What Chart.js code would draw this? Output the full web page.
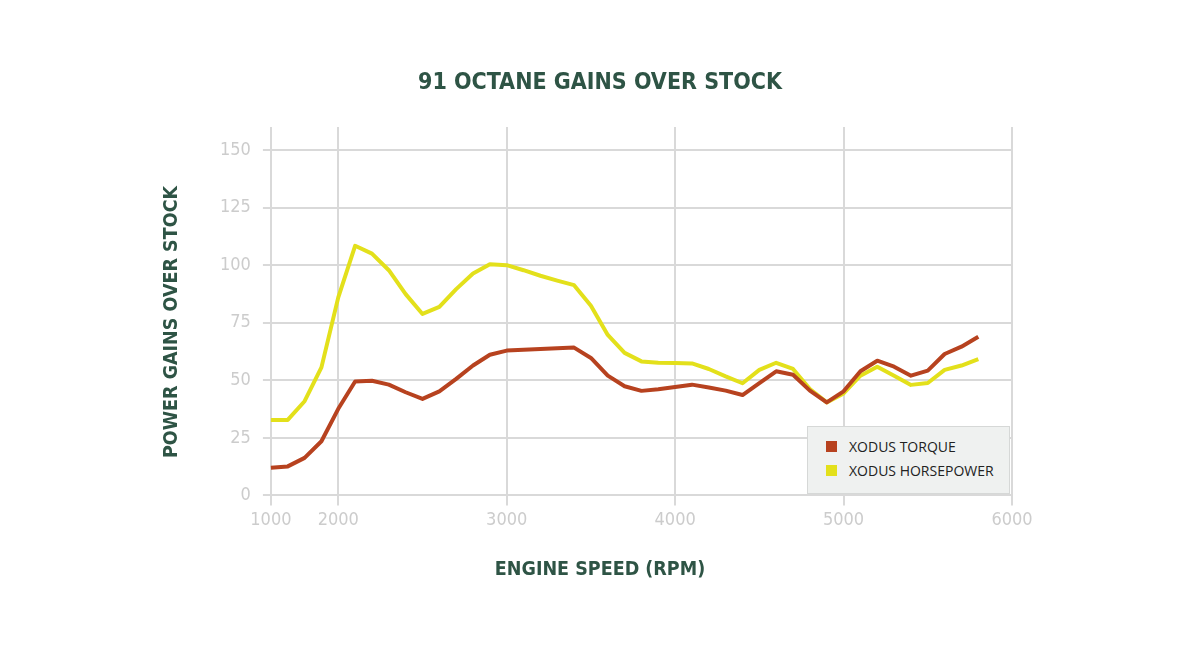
<!DOCTYPE html>
<html>
<head>
<meta charset="utf-8">
<script src="https://cdn.jsdelivr.net/npm/chart.js@4/dist/chart.umd.min.js"></script>
<style>
  html, body { margin: 0; padding: 0; background: #fff; }
  #wrap { position: relative; width: 1200px; height: 645px; }
  #legend {
    position: absolute; left: 807px; top: 426px; width: 201px; height: 66px;
    background: #eff1f0; border: 1px solid #d6d8d7;
    font-family: "Open Sans", sans-serif; font-size: 14px; color: #222;
  }
  #legend .item { position: absolute; left: 18px; display: flex; align-items: center; }
  #legend .sw { width: 11px; height: 11px; margin-right: 12px; }
</style>
</head>
<body>
<div id="wrap">
  <canvas id="chart" width="1200" height="645"></canvas>
  <div id="legend"></div>
</div>
<script>
// --- Data ---
const rpmLabels = ['1000', '1700', '1800', '1900', '2000', '2100', '2200', '2300', '2400', '2500',
    '2600', '2700', '2800', '2900', '3000', '3100', '3200', '3300', '3400', '3500',
    '3600', '3700', '3800', '3900', '4000', '4100', '4200', '4300', '4400', '4500',
    '4600', '4700', '4800', '4900', '5000', '5100', '5200', '5300', '5400', '5500',
    '5600', '5700', '5800', '5900', '6000'];
const torqueGains = [12, 12.6, 16.3, 23.5, 37.6, 49.5, 49.8, 48.1, 44.8, 41.9,
    45.2, 50.6, 56.4, 61.1, 62.9, 63.3, 63.6, 63.9, 64.2, 59.7,
    52, 47.4, 45.4, 46.1, 47.1, 48.1, 46.9, 45.5, 43.6, 48.8,
    53.9, 52.4, 45.5, 40.4, 45.2, 53.9, 58.5, 55.9, 52, 54.2,
    61.4, 64.6, 68.9];
const hpGains = [32.8, 32.8, 40.9, 55.6, 86, 108.4, 105, 97.8, 87.4, 78.8,
    81.9, 89.6, 96.4, 100.4, 100, 97.8, 95.4, 93.3, 91.3, 82.4,
    69.7, 61.9, 58.2, 57.6, 57.5, 57.3, 54.9, 51.7, 48.7, 54.5,
    57.6, 54.9, 46.2, 40.4, 44.3, 52, 55.9, 52, 48, 48.8,
    54.5, 56.4, 59.2];
const seriesNames = ['XODUS TORQUE', 'XODUS HORSEPOWER'];
const seriesColors = ['#b7421f', '#e3e01b'];
const chartTitle = '91 OCTANE GAINS OVER STOCK';
const xTitle = 'ENGINE SPEED (RPM)';
const yTitle = 'POWER GAINS OVER STOCK';
const yTickStep = 25;

// --- Styles ---
const gridGray = '#d9d9d9';
const tickGray = '#cccccc';
const titleGreen = '#2e5445';
const narrow = '"DejaVu Sans Condensed", "Liberation Sans Narrow", sans-serif';

const isMajor = i => Number(rpmLabels[i]) % 1000 === 0;

// Titles are centred on the page, not on the plot, so draw them here
const pageTitles = {
    id: 'pageTitles',
    afterDraw(chart) {
        const c = chart.ctx;
        c.save();
        c.fillStyle = titleGreen;
        c.textAlign = 'center';
        c.textBaseline = 'middle';
        c.font = `bold 23px ${narrow}`;
        c.fillText(chartTitle, 600, 83);
        c.font = `bold 19.5px ${narrow}`;
        c.fillText(xTitle, 600, 570);
        c.translate(172, 322);
        c.rotate(-Math.PI / 2);
        c.fillText(yTitle, 0, 0);
        c.restore();
    }
};

const ctx = document.getElementById('chart').getContext('2d');
const chart = new Chart(ctx, {
    type: 'line',
    data: {
        labels: rpmLabels,
        datasets: [
            { label: seriesNames[0], data: torqueGains, borderColor: seriesColors[0], backgroundColor: seriesColors[0] },
            { label: seriesNames[1], data: hpGains, borderColor: seriesColors[1], backgroundColor: seriesColors[1] }
        ].map(d => Object.assign(d, {
            borderWidth: 4, pointRadius: 0, tension: 0, fill: false,
            borderJoinStyle: 'round', borderCapStyle: 'butt'
        }))
    },
    plugins: [pageTitles],
    options: {
        responsive: false,
        animation: false,
        layout: { padding: { left: 208, right: 188, top: 127, bottom: 110 } },
        plugins: {
            legend: { display: false },
            tooltip: { enabled: false },
            title: { display: false }
        },
        scales: {
            x: {
                type: 'category',
                offset: false,
                border: { display: false },
                grid: {
                    color: c => isMajor(c.index) ? gridGray : 'rgba(0,0,0,0)',
                    tickColor: c => isMajor(c.index) ? gridGray : 'rgba(0,0,0,0)',
                    lineWidth: 2,
                    tickLength: 10
                },
                ticks: {
                    autoSkip: false,
                    maxRotation: 0,
                    color: tickGray,
                    font: { family: narrow, size: 18 },
                    padding: 4,
                    callback: (v, i) => isMajor(i) ? rpmLabels[i] : ''
                }
            },
            y: {
                min: 0,
                max: 160,
                border: { display: false },
                afterBuildTicks: s => { s.ticks = s.ticks.filter(t => t.value % yTickStep === 0); },
                grid: { color: gridGray, lineWidth: 2, tickLength: 8 },
                ticks: {
                    stepSize: yTickStep,
                    color: tickGray,
                    font: { family: narrow, size: 18 },
                    padding: 12
                }
            }
        }
    }
});

// --- Legend ---
const legend = document.getElementById('legend');
seriesNames.forEach((name, i) => {
    const item = document.createElement('div');
    item.className = 'item';
    item.style.top = (10 + i * 24) + 'px';
    item.innerHTML = `<span class="sw" style="background:${seriesColors[i]}"></span><span>${name}</span>`;
    legend.appendChild(item);
});
</script>
</body>
</html>
